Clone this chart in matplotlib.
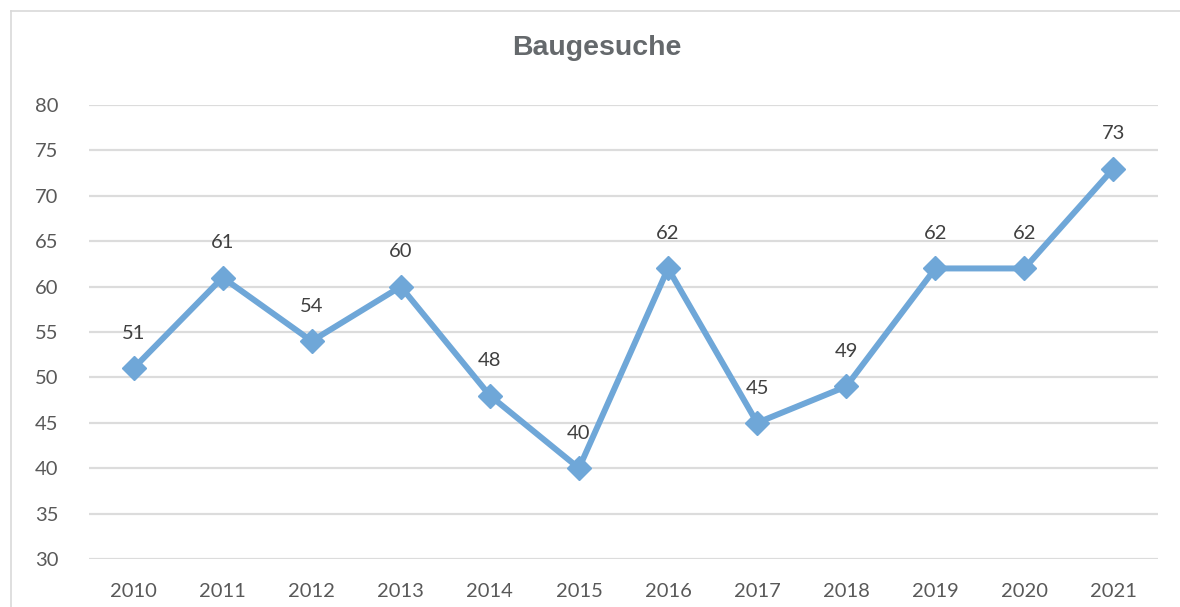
import matplotlib
matplotlib.use("Agg")
import matplotlib.pyplot as plt
from matplotlib.lines import Line2D

years = ["2010", "2011", "2012", "2013", "2014", "2015", "2016", "2017", "2018", "2019", "2020", "2021"]
values = [51, 61, 54, 60, 48, 40, 62, 45, 49, 62, 62, 73]
yticks = [30, 35, 40, 45, 50, 55, 60, 65, 70, 75, 80]
title = "Baugesuche"

W, H = 1180, 607
fig = plt.figure(figsize=(W / 100, H / 100), dpi=100)
fig.patch.set_facecolor("white")

# chart-area border (cut off at right and bottom)
fig.add_artist(Line2D([10.5 / W, 10.5 / W], [0, 1 - 10.5 / H], transform=fig.transFigure,
                      color="#d9d9d9", lw=1.2))
fig.add_artist(Line2D([10.5 / W, 1], [1 - 10.5 / H, 1 - 10.5 / H], transform=fig.transFigure,
                      color="#d9d9d9", lw=1.2))

ax = fig.add_axes([89 / W, 1 - 559 / H, (1158 - 89) / W, (559 - 105) / H])
x = list(range(len(years)))
line_color = "#6fa7d8"
ax.plot(x, values, color=line_color, lw=4.3, marker="D", ms=12.5,
        markerfacecolor=line_color, markeredgecolor=line_color, zorder=3,
        solid_joinstyle="miter")

for xi, v in zip(x, values):
    ax.annotate(str(v), (xi, v), xytext=(0, 25), textcoords="offset points",
                ha="center", va="center", fontsize=14.5, color="#404040",
                family=["Lato", "DejaVu Sans"])

ax.set_xlim(-0.5, len(years) - 0.5)
ax.set_ylim(30, 80)
ax.set_yticks(yticks)
ax.set_xticks(x)
ax.set_xticklabels(years)
ax.grid(axis="y", color="#dcdcdc", lw=1.6)
ax.set_axisbelow(True)
for s in ax.spines.values():
    s.set_visible(False)
ax.tick_params(axis="both", length=0, colors="#595959", labelsize=14.5)
ax.tick_params(axis="y", pad=22)
ax.tick_params(axis="x", pad=17)
for lab in ax.get_xticklabels() + ax.get_yticklabels():
    lab.set_family(["Lato", "DejaVu Sans"])

fig.text(597 / W, 1 - 48 / H, title, ha="center", va="center", fontsize=20.5,
         fontweight="bold", color="#65696c", family=["Liberation Sans", "DejaVu Sans"])

fig.savefig("out.png", dpi=100)
